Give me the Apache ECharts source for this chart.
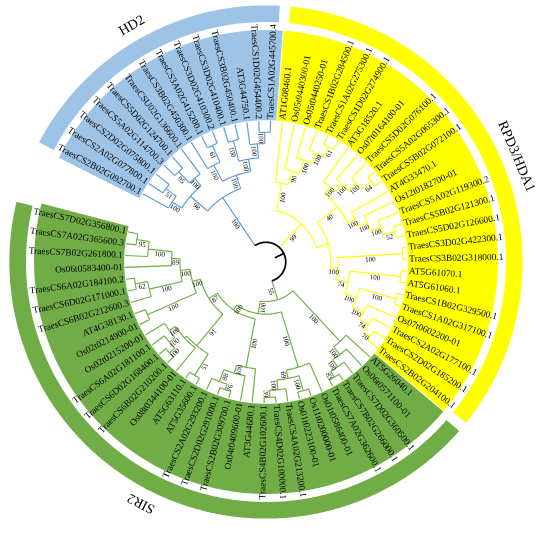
<!DOCTYPE html>
<html><head><meta charset="utf-8">
<script src="https://cdn.jsdelivr.net/npm/echarts@6/dist/echarts.min.js"></script>
<style>html,body{margin:0;padding:0;background:#fff}#c{width:550px;height:539px}</style>
</head><body><div id="c"></div>
<script>
// ---------------- data ----------------
const leaves = [
 'TraesCS2B02G092700.1','TraesCS2A02G077800.1','TraesCS2D02G075800.1','TraesCS5A02G114700.3',
 'TraesCS5D02G124700.1','TraesCSU02G136600.1','TraesCS3B02G450300.1','TraesCS3A02G415200.1',
 'TraesCS3D02G410300.2','TraesCS3D02G410400.1','TraesCS3B02G450400.1','AT3G44750.1',
 'TraesCS1D02G454400.2','TraesCS1A02G445700.4',
 'AT1G08460.1','Os05t0440300-01','Os05t0440250-01','TraesCS1B02G284500.1','TraesCS1A02G275300.1',
 'TraesCS1D02G274900.1','AT3G18520.1','Os07t0164100-01','TraesCS5D02G076100.1','TraesCS5A02G065300.1',
 'TraesCS5B02G072100.1','AT4G33470.1','Os12t0182700-01','TraesCS5A02G119300.2','TraesCS5B02G121300.1',
 'TraesCS5D02G126600.1','TraesCS3D02G422300.1','TraesCS3B02G318000.1','AT5G61070.1','AT5G61060.1',
 'TraesCS1B02G329500.1','TraesCS1A02G317100.1','Os07t0602200-01','TraesCS2A02G177100.1',
 'TraesCS2D02G185200.1','TraesCS2B02G204100.1',
 'AT5G26040.1','Os06t0571100-01','TraesCS7D02G360500.1','TraesCS7B02G266000.1','TraesCS7A02G362600.1',
 'Os01t0586400-01','Os11t0200000-01','Os01t0223100-01','TraesCS4A02G213200.1','TraesCS4D02G100000.1',
 'TraesCS4B02G102600.1','AT3G44680.1','Os04t0409600-01','TraesCS2B02G309700.1','TraesCS2D02G291000.1',
 'TraesCS2A02G293200.1','AT5G35600.1','AT5G63110.1','Os08t0344100-01','TraesCS6B02G210200.1',
 'TraesCS6D02G168400.1','TraesCS6A02G181100.1','Os02t0215200-01','Os02t0214900-01','AT4G38130.1',
 'TraesCS6B02G212600.3','TraesCS6D02G171000.1','TraesCS6A02G184100.2','Os06t0583400-01',
 'TraesCS7B02G261800.1','TraesCS7A02G365600.3','TraesCS7D02G356800.1'
];
const cladeNames = ['HD2', 'RPD3/HDA1', 'SIR2'];
const cladeFirstLeaf = [0, 14, 40];
const cladeLastLeaf = [13, 39, 71];

// tree: N(bootstrap, node height (leaves = 100), ...children); numbers are leaf indices
const N = (support, height, ...children) => ({support, height, children});
const treeHD2 = N(100, 55,
  N(98, 71, N(100, 79, 0, N(51, 88, 1, 2)), N(100, 78, N(95, 89, 3, 4), 5)),
  N(100, 65, N(100, 78, 6, N(61, 91, 7, 8)),
             N(100, 74, N(100, 89, 9, 10), N(100, 84, 11, N(100, 92, 12, 13)))));
const treeRPD3 = N(99, 37,
  N(100, 57, 14, N(90, 67, 15, N(100, 77, 16, N(100, 85, 17, N(61, 93, 18, 19))))),
  N(null, 46,
    N(40, 64,
      N(100, 70, 20, N(100, 77, 21, N(100, 85, 22, N(64, 94, 23, 24)))),
      N(100, 70, 25, N(100, 77, 26, N(100, 85, 27, N(52, 94, 28, 29))))),
    N(100, 51, N(100, 97, 30, 31),
      N(74, 60, N(100, 96, 32, 33),
        N(100, 69, N(100, 96, 34, 35),
          N(100, 78, 36, N(74, 85, 37, N(70, 91, 38, 39))))))));
const treeSIR2 = N(55, 28,
  N(100, 77, 40, N(100, 84, 41, N(100, 90, 42, N(83, 95, 43, 44)))),
  N(100, 37,
    N(100, 78, 45, N(69, 84, N(100, 95, 46, 47), N(100, 91, 48, N(39, 96, 49, 50)))),
    N(100, 41,
      N(100, 76, 51, N(100, 82, 52, N(88, 91, N(76, 95, 53, 54), 55))),
      N(87, 48,
        N(100, 54,
          N(100, 61,
            N(89, 67, N(100, 84, N(95, 93, 70, 71), 69), 68),
            N(100, 85, N(62, 94, 66, 67), 65)),
          N(100, 92, 63, 64)),
        N(91, 77,
          N(null, 79, 58, N(100, 84, 62, N(100, 89, 61, N(100, 94, 59, 60)))),
          N(51, 95, 56, 57))))));
const rootHeight = 14;
const leafHeight = 100;

// ---------------- styles / layout ----------------
const lineColors = ['#5B9BD5', '#FFFF00', '#70AD47'];
const fillColors = ['#9DC3E6', '#FFFF00', '#70AD47'];
const FONT = "'Liberation Serif','Times New Roman',serif";
const GAP_UNITS = 3.45;                 // empty angular space after the last leaf
const ANGLE_MAX = leaves.length - 1 + GAP_UNITS;
const PX_PER_UNIT = 1.41;
const R_MAX = 257 / PX_PER_UNIT;

const items = [];
function layout(node) {
  if (typeof node === 'number') return node;
  const angs = node.children.map(layout);
  node.amin = Math.min(...angs); node.amax = Math.max(...angs);
  node.angle = (node.amin + node.amax) / 2;
  return node.angle;
}
function arcPts(h, a1, a2) {
  const pts = []; const n = Math.max(2, Math.ceil(Math.abs(a2 - a1) / 0.05));
  for (let k = 0; k <= n; k++) pts.push([h, a1 + (a2 - a1) * k / n]);
  return pts;
}
const bgItems = [], lineItems = [], textItems = [];
function walk(node, parentH, ci) {
  const leaf = typeof node === 'number';
  const a = leaf ? node : node.angle;
  const h = leaf ? leafHeight : node.height;
  lineItems.push({kind: 'line', pts: [[parentH, a], [h, a]], color: lineColors[ci], w: 1.15});
  if (leaf) return;
  lineItems.push({kind: 'line', pts: arcPts(h, node.amin, node.amax), color: lineColors[ci], w: 1.15});
  node.children.forEach(c => walk(c, h, ci));
  if (node.support != null)
    textItems.push({kind: 'text', mode: 'radial', align: 'center', r: (parentH + h) / 2, a,
      text: String(node.support), size: 7, off: 4.2});
}
const subtrees = [treeHD2, treeRPD3, treeSIR2];
subtrees.forEach(layout);
// clade backgrounds and rings
cladeNames.forEach((name, ci) => {
  const a1 = cladeFirstLeaf[ci] - 0.47, a2 = cladeLastLeaf[ci] + 0.47;
  const inner = arcPts(100.6, a1, a2), outer = arcPts(164.5, a2, a1);
  bgItems.push({kind: 'poly', pts: inner.concat(outer), fill: fillColors[ci]});
  const b1 = cladeFirstLeaf[ci] - 0.25, b2 = cladeLastLeaf[ci] + 0.25;
  bgItems.push({kind: 'poly', pts: arcPts(170.2, b1, b2).concat(arcPts(182, b2, b1)), fill: fillColors[ci]});
  textItems.push({kind: 'text', mode: 'tangent', r: 192.5, a: (cladeFirstLeaf[ci] + cladeLastLeaf[ci]) / 2,
    text: name, size: 14});
});
subtrees.forEach((t, ci) => walk(t, rootHeight, ci));
// root arc + stub
const rootA1 = subtrees[0].angle, rootA2 = subtrees[2].angle;
lineItems.push({kind: 'line', pts: arcPts(rootHeight, rootA1, rootA2), color: '#000', w: 1.7});
lineItems.push({kind: 'line', pts: [[rootHeight, (rootA1 + rootA2) / 2], [rootHeight - 7, (rootA1 + rootA2) / 2]], color: '#000', w: 1.7});
leaves.forEach((name, i) => textItems.push({kind: 'text', mode: 'radial', align: 'left', r: 101.6, a: i, text: name, size: 9.4}));
items.push(...bgItems, ...lineItems, ...textItems);

// ---------------- chart ----------------
const chart = echarts.init(document.getElementById('c'));
chart.setOption({
  animation: false,
  polar: {center: [266, 262], radius: 257},
  angleAxis: {type: 'value', min: 0, max: ANGLE_MAX, startAngle: 151, clockwise: true, show: false},
  radiusAxis: {type: 'value', min: 0, max: R_MAX, show: false},
  series: [{
    type: 'custom', coordinateSystem: 'polar', silent: true,
    data: items.map(it => it.pts ? [it.pts[0][0], it.pts[0][1]] : [it.r, it.a]),
    renderItem(params, api) {
      const it = items[params.dataIndex];
      const P = (r, a) => api.coord([r, a]);
      if (it.kind === 'line')
        return {type: 'polyline', shape: {points: it.pts.map(p => P(p[0], p[1]))},
          style: {stroke: it.color, lineWidth: it.w, fill: null}};
      if (it.kind === 'poly')
        return {type: 'polygon', shape: {points: it.pts.map(p => P(p[0], p[1]))},
          style: {fill: it.fill, stroke: null}};
      const p = P(it.r, it.a), c = P(0, it.a);
      const phi = Math.atan2(-(p[1] - c[1]), p[0] - c[0]);
      let rot, align;
      if (it.mode === 'tangent') { rot = phi - Math.PI / 2; align = 'center'; }
      else if (Math.cos(phi) >= -1e-6) { rot = phi; align = it.align; }
      else { rot = phi - Math.PI; align = it.align === 'center' ? 'center' : 'right'; }
      let x = p[0], y = p[1];
      if (it.off) { x += it.off * Math.sin(rot); y += it.off * Math.cos(rot); }
      return {type: 'text', x, y, rotation: rot,
        style: {text: it.text, fill: '#000', fontSize: it.size, fontFamily: FONT,
          align, verticalAlign: 'middle'}};
    }
  }]
});
</script>
</body></html>
